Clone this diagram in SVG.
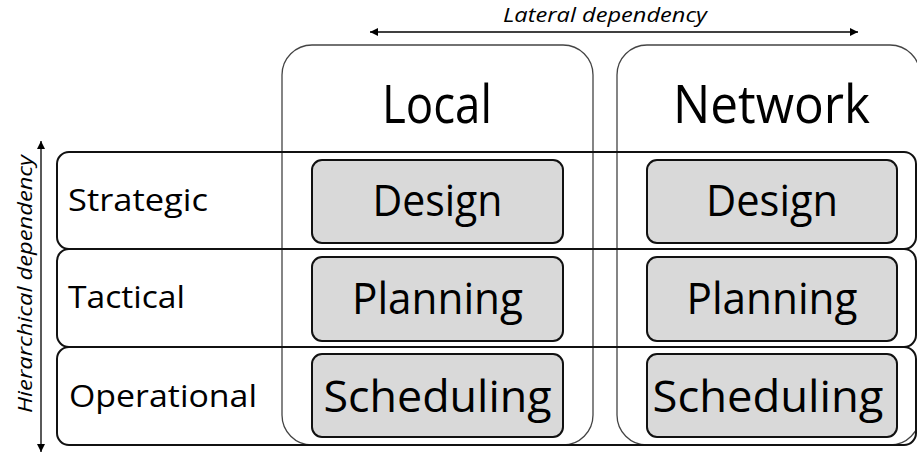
<svg xmlns="http://www.w3.org/2000/svg" width="917" height="453" viewBox="0 0 917 453">
<defs>
<marker id="ah" viewBox="0 0 10 10" refX="10" refY="5" markerWidth="9" markerHeight="8" markerUnits="userSpaceOnUse" orient="auto-start-reverse">
<path d="M0,0 L10,5 L0,10 Z" fill="#000"/>
</marker>
<style>
.col{fill:none;stroke:#444;stroke-width:1.3}
.row{fill:none;stroke:#111;stroke-width:2}
.cell{fill:#d9d9d9;stroke:#111;stroke-width:2}
.t{font-family:"Open Sans","Noto Sans","DejaVu Sans",sans-serif;fill:#000}
.hdr{font-size:53px;text-anchor:middle}
.lbl{font-size:31px}
.in{font-size:44px;text-anchor:middle}
.it{font-size:20px;font-style:italic;text-anchor:middle}
.arr{stroke:#000;stroke-width:1.3;fill:none}
</style>
</defs>
<rect width="917" height="453" fill="#fff"/>
<g id="connectors">
<line class="arr" x1="370" y1="32" x2="858" y2="32" marker-start="url(#ah)" marker-end="url(#ah)"/>
<line class="arr" x1="41" y1="141" x2="41" y2="452" marker-start="url(#ah)" marker-end="url(#ah)"/>
</g>
<g id="lateral-label"><text class="t it" x="605" y="22" textLength="204" lengthAdjust="spacingAndGlyphs">Lateral dependency</text></g>
<g id="hierarchical-label"><text class="t it" transform="translate(32,284) rotate(-90)" x="0" y="0" textLength="258" lengthAdjust="spacingAndGlyphs">Hierarchical dependency</text></g>
<g id="col-local">
<rect class="col" x="282" y="45" width="311" height="400" rx="30"/>
<text class="t hdr" x="437" y="123" textLength="110" lengthAdjust="spacingAndGlyphs">Local</text>
</g>
<g id="col-network">
<rect class="col" x="617" y="45" width="303" height="400" rx="30"/>
<text class="t hdr" x="771.5" y="123" textLength="197" lengthAdjust="spacingAndGlyphs">Network</text>
</g>
<g id="row-strategic">
<rect class="row" x="57" y="152" width="859" height="97" rx="12"/>
<text class="t lbl" x="68" y="211" textLength="140" lengthAdjust="spacingAndGlyphs">Strategic</text>
</g>
<g id="row-tactical">
<rect class="row" x="57" y="249" width="859" height="98" rx="12"/>
<text class="t lbl" x="68" y="308" textLength="117" lengthAdjust="spacingAndGlyphs">Tactical</text>
</g>
<g id="row-operational">
<rect class="row" x="57" y="347" width="859" height="98" rx="12"/>
<text class="t lbl" x="69" y="407" textLength="188" lengthAdjust="spacingAndGlyphs">Operational</text>
</g>
<g id="local-design">
<rect class="cell" x="312" y="160" width="251" height="83" rx="10"/>
<text class="t in" x="437.5" y="216" textLength="130" lengthAdjust="spacingAndGlyphs">Design</text>
</g>
<g id="local-planning">
<rect class="cell" x="312" y="257" width="251" height="84" rx="10"/>
<text class="t in" x="437.5" y="314" textLength="171" lengthAdjust="spacingAndGlyphs">Planning</text>
</g>
<g id="local-scheduling">
<rect class="cell" x="312" y="354" width="251" height="83" rx="10"/>
<text class="t in" x="437.5" y="412" textLength="228" lengthAdjust="spacingAndGlyphs">Scheduling</text>
</g>
<g id="network-design">
<rect class="cell" x="647" y="160" width="250" height="83" rx="10"/>
<text class="t in" x="772" y="216" textLength="132" lengthAdjust="spacingAndGlyphs">Design</text>
</g>
<g id="network-planning">
<rect class="cell" x="647" y="257" width="250" height="84" rx="10"/>
<text class="t in" x="772" y="314" textLength="171" lengthAdjust="spacingAndGlyphs">Planning</text>
</g>
<g id="network-scheduling">
<rect class="cell" x="647" y="354" width="250" height="83" rx="10"/>
<text class="t in" x="768" y="412" textLength="231" lengthAdjust="spacingAndGlyphs">Scheduling</text>
</g>
</svg>
